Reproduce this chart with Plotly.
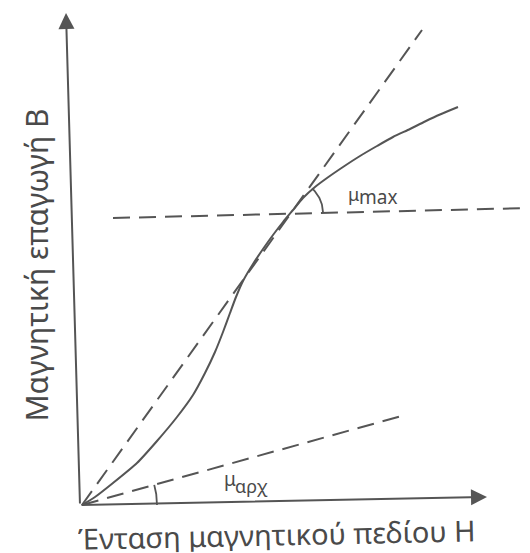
import numpy as np
import plotly.graph_objects as go

# Magnetization (B-H) curve, arbitrary units
H_curve = [0.05, 0.375, 0.825, 1.425, 1.925, 2.425, 2.825, 3.125, 3.375, 3.575,
           3.75, 3.9, 4.075, 4.325, 4.575, 4.825, 5.075, 5.325, 5.575, 5.875,
           6.175, 6.575, 7.0, 7.425, 7.825, 8.25, 8.625, 9.0, 9.45]
B_curve = [0.0, 0.2, 0.55, 1.05, 1.6, 2.2, 2.75, 3.3, 3.825, 4.325,
           4.8, 5.2, 5.6, 6.025, 6.4, 6.75, 7.075, 7.375, 7.675, 7.95,
           8.175, 8.45, 8.725, 8.975, 9.2, 9.4, 9.5875, 9.7625, 9.95]

# Dashed construction lines
steep_H = [0.05, 8.55]
steep_B = [0.0, 11.875]
horiz_H = [0.825, 11.45]
horiz_B = [7.175, 7.43]
initial_H = [0.05, 8.125]
initial_B = [0.0, 2.25]

# Axes (start, arrow tip)
xaxis_H = [0.0, 10.175]
xaxis_B = [0.0, 0.2]
yaxis_H = [0.0, -0.35]
yaxis_B = [0.0, 12.3]

# Angle markers: centre H, centre B, radius, start angle, end angle (deg)
arc_max = (5.25, 7.3, 0.825, 1.4, 48.0)
arc_init = (0.05, 0.0, 1.875, 0.0, 15.6)

labels = {
    "x_title": "Ένταση μαγνητικού πεδίου Η",
    "y_title": "Μαγνητική επαγωγή Β",
    "mu": "μ",
    "max": "max",
    "arx": "αρχ",
}

INK = "#555555"
TXT = "#4a4a4a"
FONT = "Noto Sans"
DASH = "17px,9px"

fig = go.Figure()

fig.add_trace(go.Scatter(x=H_curve, y=B_curve, mode="lines",
                         line=dict(color=INK, width=2, shape="spline", smoothing=0.6),
                         hoverinfo="skip"))
for hx, by in [(steep_H, steep_B), (horiz_H, horiz_B), (initial_H, initial_B)]:
    fig.add_trace(go.Scatter(x=hx, y=by, mode="lines",
                             line=dict(color=INK, width=2, dash=DASH),
                             hoverinfo="skip"))

for cx, cy, r, a0, a1 in [arc_max, arc_init]:
    t = np.radians(np.linspace(a0, a1, 30))
    fig.add_trace(go.Scatter(x=cx + r * np.cos(t), y=cy + r * np.sin(t), mode="lines",
                             line=dict(color=INK, width=1.8), hoverinfo="skip"))

# axes with arrowheads
for hx, by in [(xaxis_H, xaxis_B), (yaxis_H, yaxis_B)]:
    fig.add_annotation(x=hx[1], y=by[1], ax=hx[0], ay=by[0], xref="x", yref="y",
                       axref="x", ayref="y", showarrow=True, arrowhead=2,
                       arrowsize=1.6, arrowwidth=2, arrowcolor=INK, text="")

fig.add_annotation(x=4.925, y=-0.72, xref="x", yref="y", text=labels["x_title"],
                   showarrow=False, textangle=-1.2, borderpad=0, height=32,
                   valign="middle",
                   font=dict(family=FONT, size=29, color=TXT))
fig.add_annotation(x=-1.11, y=6.0, xref="x", yref="y", text=labels["y_title"],
                   showarrow=False, textangle=-90,
                   font=dict(family=FONT, size=30, color=TXT))

# mu_max label
fig.add_annotation(x=6.65, y=7.78, xref="x", yref="y", text=labels["mu"],
                   showarrow=False, xanchor="left", yanchor="middle",
                   font=dict(family=FONT, size=18, color=TXT))
fig.add_annotation(x=6.93, y=7.69, xref="x", yref="y", text=labels["max"],
                   showarrow=False, xanchor="left", yanchor="middle",
                   font=dict(family=FONT, size=19, color=TXT))
# mu_arx label
fig.add_annotation(x=3.55, y=0.64, xref="x", yref="y", text=labels["mu"],
                   showarrow=False, xanchor="left", yanchor="middle",
                   font=dict(family=FONT, size=19, color=TXT))
fig.add_annotation(x=3.825, y=0.475, xref="x", yref="y", text=labels["arx"],
                   showarrow=False, xanchor="left", yanchor="middle",
                   font=dict(family=FONT, size=18, color=TXT))

# the page body adds an 8px offset; the figure is sized/ranged to compensate
fig.update_layout(
    width=522, height=545,
    margin=dict(l=0, r=0, t=0, b=0),
    paper_bgcolor="white", plot_bgcolor="white",
    showlegend=False,
    xaxis=dict(range=[-1.8, 11.25], visible=False, fixedrange=True),
    yaxis=dict(range=[-1.2, 12.425], visible=False, fixedrange=True),
)

fig.write_html("out.html")
